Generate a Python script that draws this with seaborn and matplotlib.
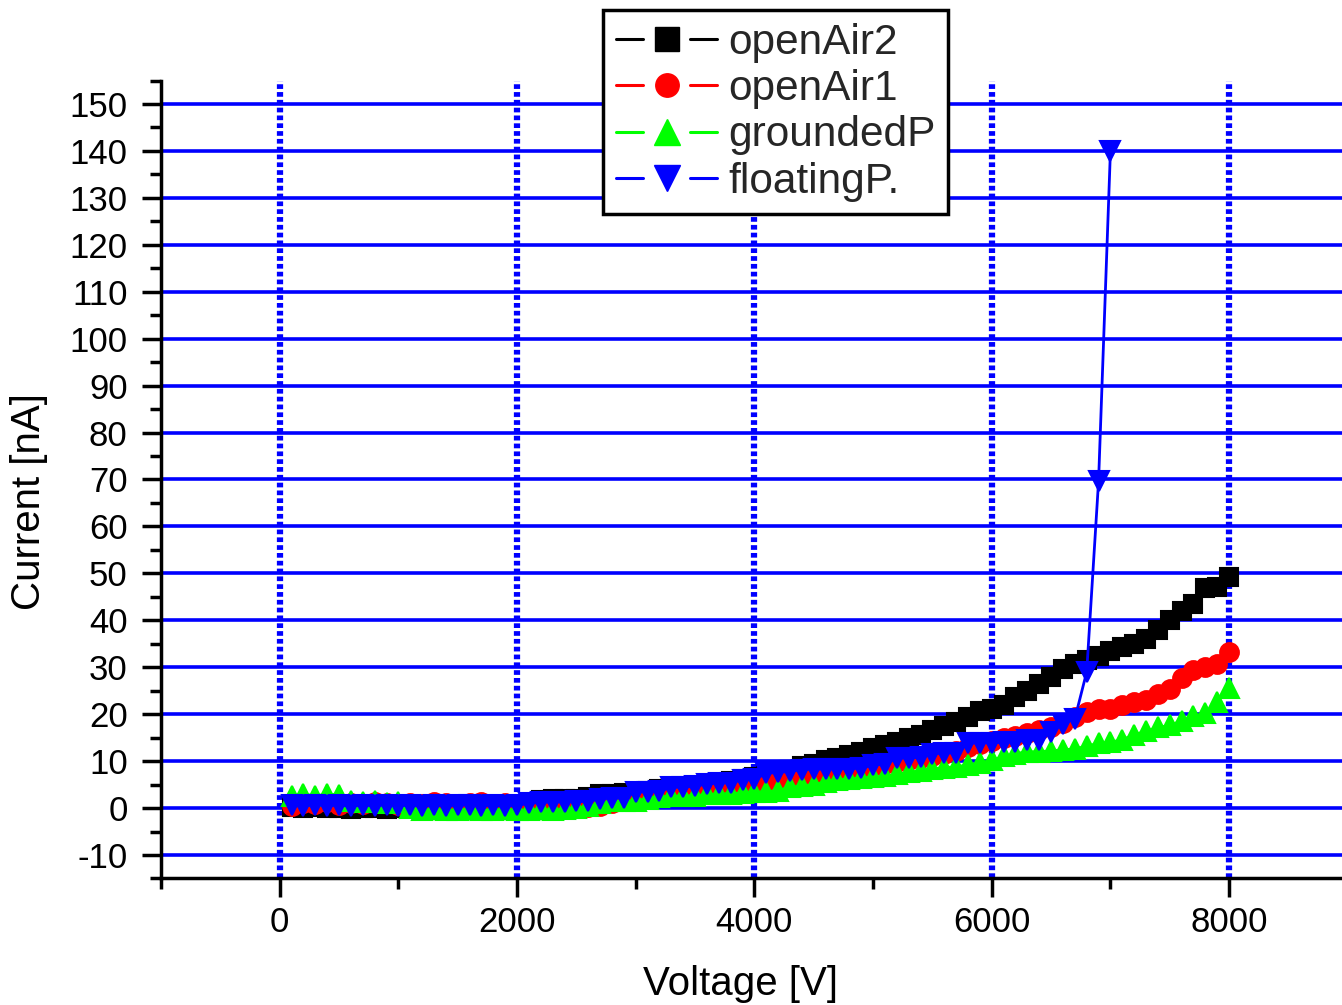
import matplotlib
matplotlib.use("Agg")
import matplotlib.pyplot as plt
from matplotlib.ticker import MultipleLocator
from matplotlib.lines import Line2D
from matplotlib.legend_handler import HandlerBase
import seaborn as sns

# ---- data ----
voltage = [100, 200, 300, 400, 500, 600, 700, 800, 900, 1000,
           1100, 1200, 1300, 1400, 1500, 1600, 1700, 1800, 1900, 2000,
           2100, 2200, 2300, 2400, 2500, 2600, 2700, 2800, 2900, 3000,
           3100, 3200, 3300, 3400, 3500, 3600, 3700, 3800, 3900, 4000,
           4100, 4200, 4300, 4400, 4500, 4600, 4700, 4800, 4900, 5000,
           5100, 5200, 5300, 5400, 5500, 5600, 5700, 5800, 5900, 6000,
           6100, 6200, 6300, 6400, 6500, 6600, 6700, 6800, 6900, 7000,
           7100, 7200, 7300, 7400, 7500, 7600, 7700, 7800, 7900, 8000]

open_air2 = [0.3, 0.0, 0.2, 0.1, 0.0, -0.2, 0.1, 0.0, -0.1, 0.0,
             0.1, 0.0, 0.2, 0.0, 0.1, 0.0, 0.2, 0.3, 0.4, 0.5,
             1.0, 1.8, 2.0, 2.0, 2.0, 2.3, 3.0, 3.0, 3.2, 3.5,
             3.6, 4.0, 4.2, 4.5, 4.8, 5.0, 5.4, 5.8, 6.2, 6.6,
             7.0, 7.5, 8.2, 9.0, 9.4, 10.2, 10.6, 11.2, 12.0, 12.8,
             13.4, 14.0, 15.0, 15.6, 16.6, 17.4, 18.4, 19.4, 20.6, 21.2,
             22.0, 23.6, 25.0, 26.4, 28.0, 29.6, 30.6, 31.6, 32.4, 33.4,
             34.4, 35.0, 36.0, 38.0, 40.0, 42.0, 43.4, 46.8, 47.0, 49.2]

open_air1 = [0.5, 1.0, 0.8, 1.2, 0.6, 1.0, 0.8, 1.2, 1.0, 0.6,
             1.0, 0.8, 1.2, 1.0, 0.8, 1.0, 1.2, 0.8, 1.0, 0.6,
             0.5, 0.0, -0.3, -0.2, 0.0, 0.3, 0.5, 1.0, 1.5, 2.0,
             2.4, 2.8, 3.0, 3.3, 3.6, 4.0, 4.3, 4.6, 5.0, 5.3,
             5.8, 6.2, 6.6, 7.0, 7.2, 7.6, 8.0, 8.3, 8.6, 9.0,
             9.4, 9.8, 10.2, 10.6, 11.0, 11.6, 12.2, 13.0, 13.6, 14.2,
             15.0, 15.4, 16.0, 16.6, 17.2, 18.2, 19.4, 20.4, 21.0, 21.2,
             22.0, 22.6, 23.0, 24.4, 25.4, 27.8, 29.4, 30.0, 30.6, 33.2]

grounded_p = [2.6, 3.0, 2.6, 3.0, 2.8, 1.4, 1.2, 1.4, 1.0, 1.2,
              0.0, -0.4, -0.3, -0.5, -0.4, -0.3, -0.5, -0.4, -0.3, -0.5,
              -0.4, -0.3, -0.4, -0.2, 0.0, 0.4, 1.0, 1.4, 1.5, 1.6,
              2.0, 2.4, 2.5, 2.6, 2.6, 2.9, 3.0, 3.1, 3.2, 3.4,
              3.5, 3.7, 4.5, 4.7, 5.0, 5.6, 6.0, 6.2, 6.4, 6.6,
              6.8, 7.2, 7.6, 8.0, 8.4, 8.6, 8.8, 9.2, 9.6, 10.2,
              11.0, 11.6, 12.0, 12.0, 12.2, 12.4, 12.6, 13.2, 13.8, 14.0,
              14.6, 15.6, 16.4, 17.2, 17.6, 18.6, 19.6, 20.2, 22.6, 25.6]

# floatingP stops at 7000 V (breakdown)
voltage_floating = voltage[:70]
floating_p = [0.6, 0.4, 0.7, 0.5, 0.6, 0.4, 0.6, 0.5, 0.7, 0.5,
              0.6, 0.4, 0.6, 0.5, 0.6, 0.7, 0.5, 0.6, 0.4, 0.6,
              1.0, 1.2, 1.3, 1.3, 1.4, 1.4, 2.0, 2.1, 2.2, 3.4,
              3.5, 3.6, 4.4, 4.5, 4.6, 5.2, 5.3, 5.4, 6.0, 6.1,
              7.4, 7.6, 7.8, 8.2, 8.3, 8.3, 8.4, 8.4, 8.5, 9.2,
              9.3, 10.6, 10.7, 10.8, 11.6, 11.7, 11.8, 13.8, 13.9, 13.9,
              14.0, 14.1, 14.5, 14.6, 16.2, 18.0, 19.0, 29.0, 69.6, 140.0]

x_ticks_major = 2000
y_ticks_major = 10


class GapLineHandler(HandlerBase):
    """Legend key drawn as  —■—  with a gap on both sides of the marker."""

    def create_artists(self, legend, orig_handle, xdescent, ydescent,
                       width, height, fontsize, trans):
        y = height / 2 - ydescent
        x0 = -xdescent
        mid = x0 + width / 2
        gap = 0.23 * width
        col = orig_handle.get_color()
        left = Line2D([x0, mid - gap], [y, y], color=col, linewidth=2.2)
        right = Line2D([mid + gap, x0 + width], [y, y], color=col, linewidth=2.2)
        mark = Line2D([mid], [y], linestyle='none', marker=orig_handle.get_marker(),
                      markersize=orig_handle.get_markersize() * 1.25,
                      markerfacecolor=col, markeredgecolor=col)
        arts = [left, right, mark]
        for a in arts:
            a.set_transform(trans)
        return arts


def draw_chart(out_file='out.png'):
    sns.set_theme(style='ticks')
    plt.rcParams['font.family'] = ['Liberation Sans', 'DejaVu Sans']
    plt.rcParams['axes.unicode_minus'] = False

    fig = plt.figure(figsize=(13.42, 10.05), dpi=100)
    ax = fig.add_axes([0.12, 0.1259, 0.8843, 0.794])

    # --- series ---
    series = [
        (voltage, open_air2, 'openAir2', '#000000', 's', 13.5),
        (voltage, open_air1, 'openAir1', '#ff0000', 'o', 13.5),
        (voltage, grounded_p, 'groundedP', '#00ff00', '^', 15),
        (voltage_floating, floating_p, 'floatingP.', '#0000ff', 'v', 15),
    ]
    for xs, ys, name, col, mk, ms in series:
        sns.lineplot(x=xs, y=ys, ax=ax, color=col, marker=mk, markersize=ms,
                     markeredgecolor=col, markerfacecolor=col,
                     markeredgewidth=1.5, linewidth=2.0,
                     label=name, sort=False, zorder=3)

    # --- axes ---
    ax.set_xlim(-1000, 9000)
    ax.set_ylim(-15, 155)
    ax.xaxis.set_major_locator(MultipleLocator(x_ticks_major))
    ax.xaxis.set_minor_locator(MultipleLocator(1000))
    ax.yaxis.set_major_locator(MultipleLocator(y_ticks_major))
    ax.yaxis.set_minor_locator(MultipleLocator(5))

    ax.set_axisbelow(True)
    ax.grid(axis='y', which='major', color='#0000ff', linewidth=2.6, linestyle='-')
    ax.grid(axis='x', which='major', color='#0000ff', linewidth=4.5,
            linestyle=(0, (0.75, 0.5)))

    for side in ['top', 'right']:
        ax.spines[side].set_visible(False)
    for side in ['left', 'bottom']:
        ax.spines[side].set_linewidth(2.5)
        ax.spines[side].set_color('black')

    ax.tick_params(axis='both', which='major', direction='out', length=14,
                   width=2.5, color='black', labelsize=25, labelcolor='black')
    ax.tick_params(axis='both', which='minor', direction='out', length=8,
                   width=2.5, color='black')
    ax.tick_params(axis='x', which='major', pad=6)
    ax.tick_params(axis='y', which='major', pad=10)

    ax.set_xlabel('Voltage [V]', fontsize=29, color='black')
    ax.set_ylabel('Current [nA]', fontsize=29, color='black')
    ax.xaxis.set_label_coords(0.4886, -0.108)
    ax.yaxis.set_label_coords(-0.095, 0.472)

    # --- legend sits above the plot area ---
    handles, labels = ax.get_legend_handles_labels()
    leg = ax.legend(handles, labels, loc='upper left',
                    bbox_to_anchor=(603 / 1342, 1 - 10 / 1005),
                    bbox_transform=fig.transFigure, borderaxespad=0,
                    fontsize=30.5, labelspacing=0.15, borderpad=0.3,
                    handlelength=2.4, handletextpad=0.25,
                    handler_map={Line2D: GapLineHandler()},
                    fancybox=False, framealpha=1, edgecolor='black')
    leg.get_frame().set_linewidth(2.5)
    leg.set_zorder(10)

    fig.savefig(out_file, dpi=100)
    plt.close(fig)


if __name__ == '__main__':
    draw_chart()
